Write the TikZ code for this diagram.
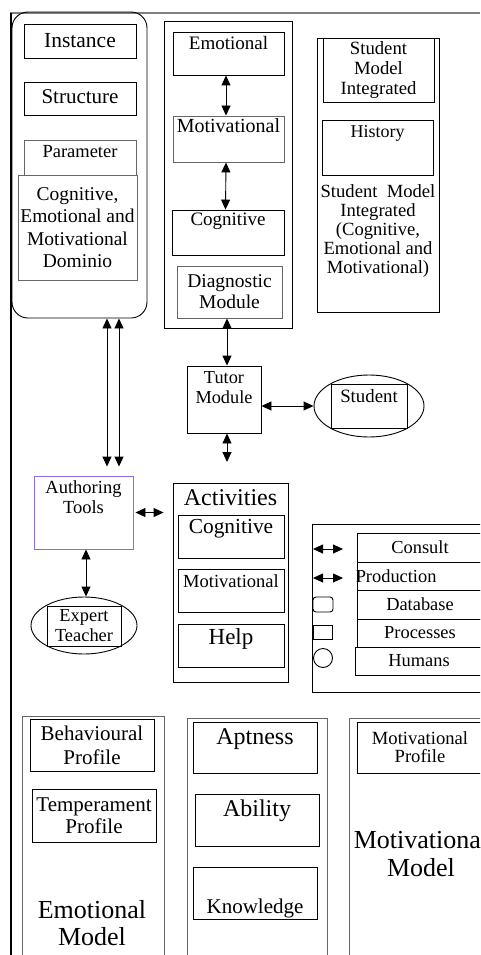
\documentclass[tikz,border=0pt]{standalone}
\usepackage{fontspec}
\setmainfont{Liberation Serif}
\usetikzlibrary{arrows.meta,fit,shapes.geometric}
\newcommand\fsz[2]{\fontsize{#1}{#2}\selectfont}
\begin{document}
\begin{tikzpicture}[x=1pt,y=-1pt,
  bx/.style={draw=black, line width=0.9pt, inner sep=0pt, rectangle},
  gbx/.style={bx, draw=black!60},
  lab/.style={anchor=north, inner sep=0pt, align=center},
  cl/.style={anchor=center, inner sep=0pt, align=center},
  tip/.tip={Triangle[length=10pt,width=9pt]},
  dbl/.style={tip-tip, line width=0.9pt},
  ell/.style={draw, ellipse, line width=0.9pt, inner sep=0pt},
  bigtxt/.style={align=center, anchor=north, inner sep=0pt}
]
\useasboundingbox (0,0) rectangle (480,955);
\clip (0,0) rectangle (480,955);
\fill[white] (0,0) rectangle (480,955);

% frame lines
\draw[black!50, line width=2pt] (10,13) -- (480,13);
\draw[line width=1.2pt] (11,13) -- (11,955);

% ---------- left column ----------
\node[bx, rounded corners=16pt, fit={(12,12) (147,318)}] (lbox) {};
\node[bx, fit={(24,24) (136,58)},
  label={[cl,font=\fsz{21.5}{24}]center:Instance}] (inst) {};
\node[bx, fit={(24,82) (136,115)},
  label={[cl,font=\fsz{21}{24},yshift=2pt]center:Structure}] (struc) {};
\node[gbx, fit={(24,140) (136,175)},
  label={[lab,font=\fsz{18.5}{20},yshift=-6pt]north:Parameter}] (param) {};
\node[gbx, fit={(18,175) (137,280)},
  label={[cl,font=\fsz{19.5}{22.5}]center:{Cognitive,\\Emotional and\\Motivational\\Dominio}}] (cdom) {};

% ---------- middle column ----------
\node[bx, fit={(164,21) (292,328)}] (mcol) {};
\node[bx, fit={(173,32) (284,75)},
  label={[lab,font=\fsz{19}{20},yshift=-5pt]north:Emotional}] (emo) {};
\node[gbx, fit={(173,116) (284,162)},
  label={[lab,font=\fsz{20}{20},yshift=-3pt]north:Motivational}] (mot) {};
\node[bx, fit={(172,210) (284,255)},
  label={[lab,font=\fsz{19}{20},yshift=-3pt]north:Cognitive}] (cog) {};
\node[gbx, fit={(177,266) (282,318)},
  label={[cl,font=\fsz{19.5}{21}]center:{Diagnostic\\Module}}] (diag) {};
\draw[dbl] ([xshift=-2.5pt]emo.south) -- ([xshift=-2.5pt]mot.north);
\draw[dbl] ([xshift=-2.5pt]mot.south) -- ([xshift=-2.5pt]cog.north);

% ---------- right column ----------
\node[bx, fit={(317,38) (439,312)}] (rcol) {};
\node[bx, fit={(323,38) (434,102)},
  label={[cl,font=\fsz{18.7}{20}]center:{Student\\Model\\Integrated}}] (smi) {};
\node[bx, fit={(322,120) (433,175)},
  label={[lab,font=\fsz{18}{20},yshift=-6pt]north:History}] (hist) {};
\node[bigtxt, font=\fsz{18.6}{19}] (smt) at (378,184)
  {Student\ \ Model\\Integrated\\(Cognitive,\\Emotional and\\Motivational)};

% ---------- tutor & student ----------
\node[bx, fit={(187,366) (261,433)},
  label={[lab,font=\fsz{18.3}{20},yshift=-6pt]north:{Tutor\\Module}}] (tutor) {};
\node[ell, minimum width=110pt, minimum height=62pt] (stu) at (369,406) {};
\node[bx, fit={(331,384) (407,428)},
  label={[lab,font=\fsz{18.8}{20},yshift=-6pt]north:Student}] (stui) {};
\draw[dbl] ([xshift=3pt]tutor.north |- diag.south) -- ([xshift=3pt]tutor.north);
\draw[dbl] (tutor.east |- stu.west) -- (stu.west);
\coordinate (tb) at (227,462);
\draw[dbl] (tutor.south -| tb) -- (tb);

% ---------- authoring ----------
\node[bx, draw={rgb,255:red,140;green,105;blue,240}, fit={(34,476) (133,549)},
  label={[lab,font=\fsz{18.5}{20},yshift=-5pt]north:{Authoring\\Tools}}] (auth) {};
\coordinate (la1) at (107,400);
\coordinate (la2) at (119,400);
\draw[dbl, shorten >=9pt] (lbox.south -| la1) -- (auth.north -| la1);
\draw[dbl, shorten >=9pt] (lbox.south -| la2) -- (auth.north -| la2);

\node[ell, minimum width=106pt, minimum height=57pt] (exp) at (84,625.5) {};
\node[bx, fit={(47,606) (121,646)},
  label={[cl,font=\fsz{18.4}{20}]center:{Expert\\Teacher}}] (expi) {};
\draw[dbl] ([xshift=2.5pt]auth.south) -- ([xshift=2.5pt]auth.south |- exp.north);

% ---------- activities ----------
\node[bx, fit={(173,483) (288,682)},
  label={[lab,font=\fsz{24}{26},yshift=-7pt]north:Activities}] (act) {};
\node[bx, fit={(178,515) (284,558)},
  label={[lab,font=\fsz{21.4}{24},yshift=-5pt]north:Cognitive}] (acog) {};
\node[bx, fit={(178,569) (284,612)},
  label={[lab,font=\fsz{18.5}{20},yshift=-6pt]north:Motivational}] (amot) {};
\node[bx, fit={(178,624) (284,667)},
  label={[lab,font=\fsz{23}{25},yshift=-5pt]north:Help}] (ahelp) {};
\draw[dbl, shorten <=2pt, shorten >=9pt] (auth.east) -- (auth.east -| act.west);

% ---------- legend ----------
\node[bx, fit={(312,524) (490,692)}] (leg) {};
\node[bx, fit={(357,533) (483,562)},
  label={[cl,font=\fsz{18.4}{20}]center:Consult}] (lcon) {};
\node[bx, fit={(357,562) (483,590)},
  label={[anchor=west,inner sep=0pt,font=\fsz{18.4}{20},xshift=-1pt]west:Production}] (lpro) {};
\node[bx, fit={(357,590) (483,619)},
  label={[cl,font=\fsz{18.4}{20}]center:Database}] (ldb) {};
\node[bx, fit={(357,619) (483,647)},
  label={[cl,font=\fsz{18.4}{20}]center:Processes}] (lproc) {};
\node[bx, fit={(355,647) (483,675)},
  label={[cl,font=\fsz{18.4}{20}]center:Humans}] (lhum) {};
\coordinate (s1a) at (313,549); \coordinate (s1b) at (343,549);
\coordinate (s2a) at (313,578); \coordinate (s2b) at (343,578);
\draw[dbl] (s1a) -- (s1b);
\draw[dbl] (s2a) -- (s2b);
\node[bx, rounded corners=3pt, fit={(313,597) (333,612)}] (sdb) {};
\node[bx, fit={(313,625) (332,639)}] (sproc) {};
\node[draw, circle, line width=0.9pt, inner sep=0pt, minimum size=19pt] (shum) at (323,658) {};

% ---------- bottom models ----------
\node[gbx, fit={(22,716) (164,965)}] (emod) {};
\node[bx, fit={(30,719) (154,771)},
  label={[cl,font=\fsz{21}{24}]center:{Behavioural\\Profile}}] (beh) {};
\node[bx, fit={(32,789) (156,842)},
  label={[cl,font=\fsz{21}{22}]center:{Temperament\\Profile}}] (temp) {};
\node[bigtxt, font=\fsz{26}{27}] (emodt) at (92,900) {Emotional\\Model};

\node[gbx, fit={(187,718) (327,965)}] (cmod) {};
\node[bx, fit={(193,722) (317,773)},
  label={[lab,font=\fsz{24}{26},yshift=-7pt]north:Aptness}] (apt) {};
\node[bx, fit={(195,794) (319,846)},
  label={[lab,font=\fsz{24}{26},yshift=-6pt]north:Ability}] (abil) {};
\node[bx, fit={(193,867) (317,919)},
  label={[anchor=south,inner sep=0pt,font=\fsz{21}{24},yshift=1.5pt]south:Knowledge}] (know) {};

\node[gbx, fit={(349,718) (490,965)}] (mmod) {};
\node[bx, fit={(357,722) (483,773)},
  label={[cl,font=\fsz{18.6}{18}]center:{Motivational\\Profile}}] (mprof) {};
\node[bigtxt, font=\fsz{26}{28}] (mmodt) at (421,830) {Motivational\\Model};
\end{tikzpicture}
\end{document}
